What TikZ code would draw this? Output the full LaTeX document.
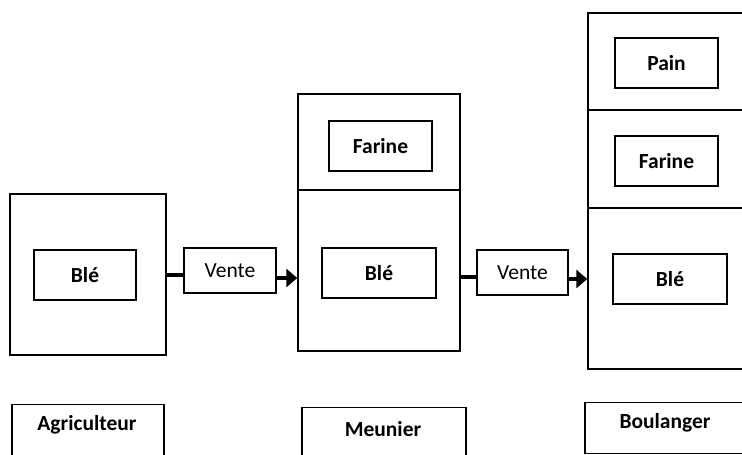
\documentclass[tikz,border=0pt]{standalone}
\usepackage{fontspec}
\setmainfont{Carlito}
\usetikzlibrary{arrows.meta}
\begin{document}
\begin{tikzpicture}[x=1pt,y=-1pt,
  box/.style={draw, line width=1.4pt, inner sep=0pt},
  lbl/.style={box, font=\bfseries\fontsize{21.5}{25}\selectfont},
  vbox/.style={box, font=\fontsize{21.5}{25}\selectfont},
  txt/.style={font=\bfseries\fontsize{21.5}{25}\selectfont, inner sep=0pt},
  conn/.style={line width=4pt},
  arr/.style={conn, -{Triangle[length=11pt,width=18pt]}}]
\useasboundingbox (0,0) rectangle (742,455);
\clip (0,0) rectangle (742,455);
% Agriculteur
\node[box, minimum width=156pt, minimum height=161pt] (agr) at (88,274.5) {};
\node[lbl, minimum width=102pt, minimum height=50pt] (ble1) at (85,275) {Blé};
% Meunier
\node[box, minimum width=162pt, minimum height=257pt] (mnr) at (379,222.5) {};
\draw[box] (mnr.west |- 0,190) -- (mnr.east |- 0,190);
\node[lbl, minimum width=103pt, minimum height=50pt] (far2) at (380.5,146) {Farine};
\node[lbl, minimum width=114pt, minimum height=50pt] (ble2) at (379,273) {Blé};
% Boulanger
\node[box, minimum width=172pt, minimum height=356pt] (bou) at (674,191) {};
\draw[box, line width=2pt] (bou.west |- 0,110) -- (bou.east |- 0,110);
\draw[box] (bou.west |- 0,208) -- (bou.east |- 0,208);
\node[lbl, minimum width=103pt, minimum height=50pt] (pain3) at (666.5,63) {Pain};
\node[lbl, minimum width=103pt, minimum height=50pt] (far3) at (666.5,161) {Farine};
\node[lbl, minimum width=114pt, minimum height=50pt] (ble3) at (670,279) {Blé};
% Vente
\node[vbox, minimum width=92pt, minimum height=45pt] (v1) at (230,270.5) {Vente};
\node[vbox, minimum width=91pt, minimum height=45pt] (v2) at (522.5,272.5) {Vente};
\draw[conn] (agr.east |- 0,275) -- (v1.west |- 0,275);
\draw[arr] (v1.east |- 0,278) -- (mnr.west |- 0,278);
\draw[conn] (mnr.east |- 0,277) -- (v2.west |- 0,277);
\draw[arr] (v2.east |- 0,279) -- (bou.west |- 0,279);
% bottom labels
\node[box, minimum width=152pt, minimum height=76pt, anchor=north] (agl) at (88,404) {};
\node[txt] (agt) at (87,425) {Agriculteur};
\node[box, minimum width=164pt, minimum height=76pt, anchor=north] (mnl) at (384,407) {};
\node[txt] (mnt) at (383,429) {Meunier};
\node[box, minimum width=175pt, minimum height=51pt, anchor=north] (bol) at (672.5,402) {};
\node[txt] (bot) at (665,423) {Boulanger};
\end{tikzpicture}
\end{document}
